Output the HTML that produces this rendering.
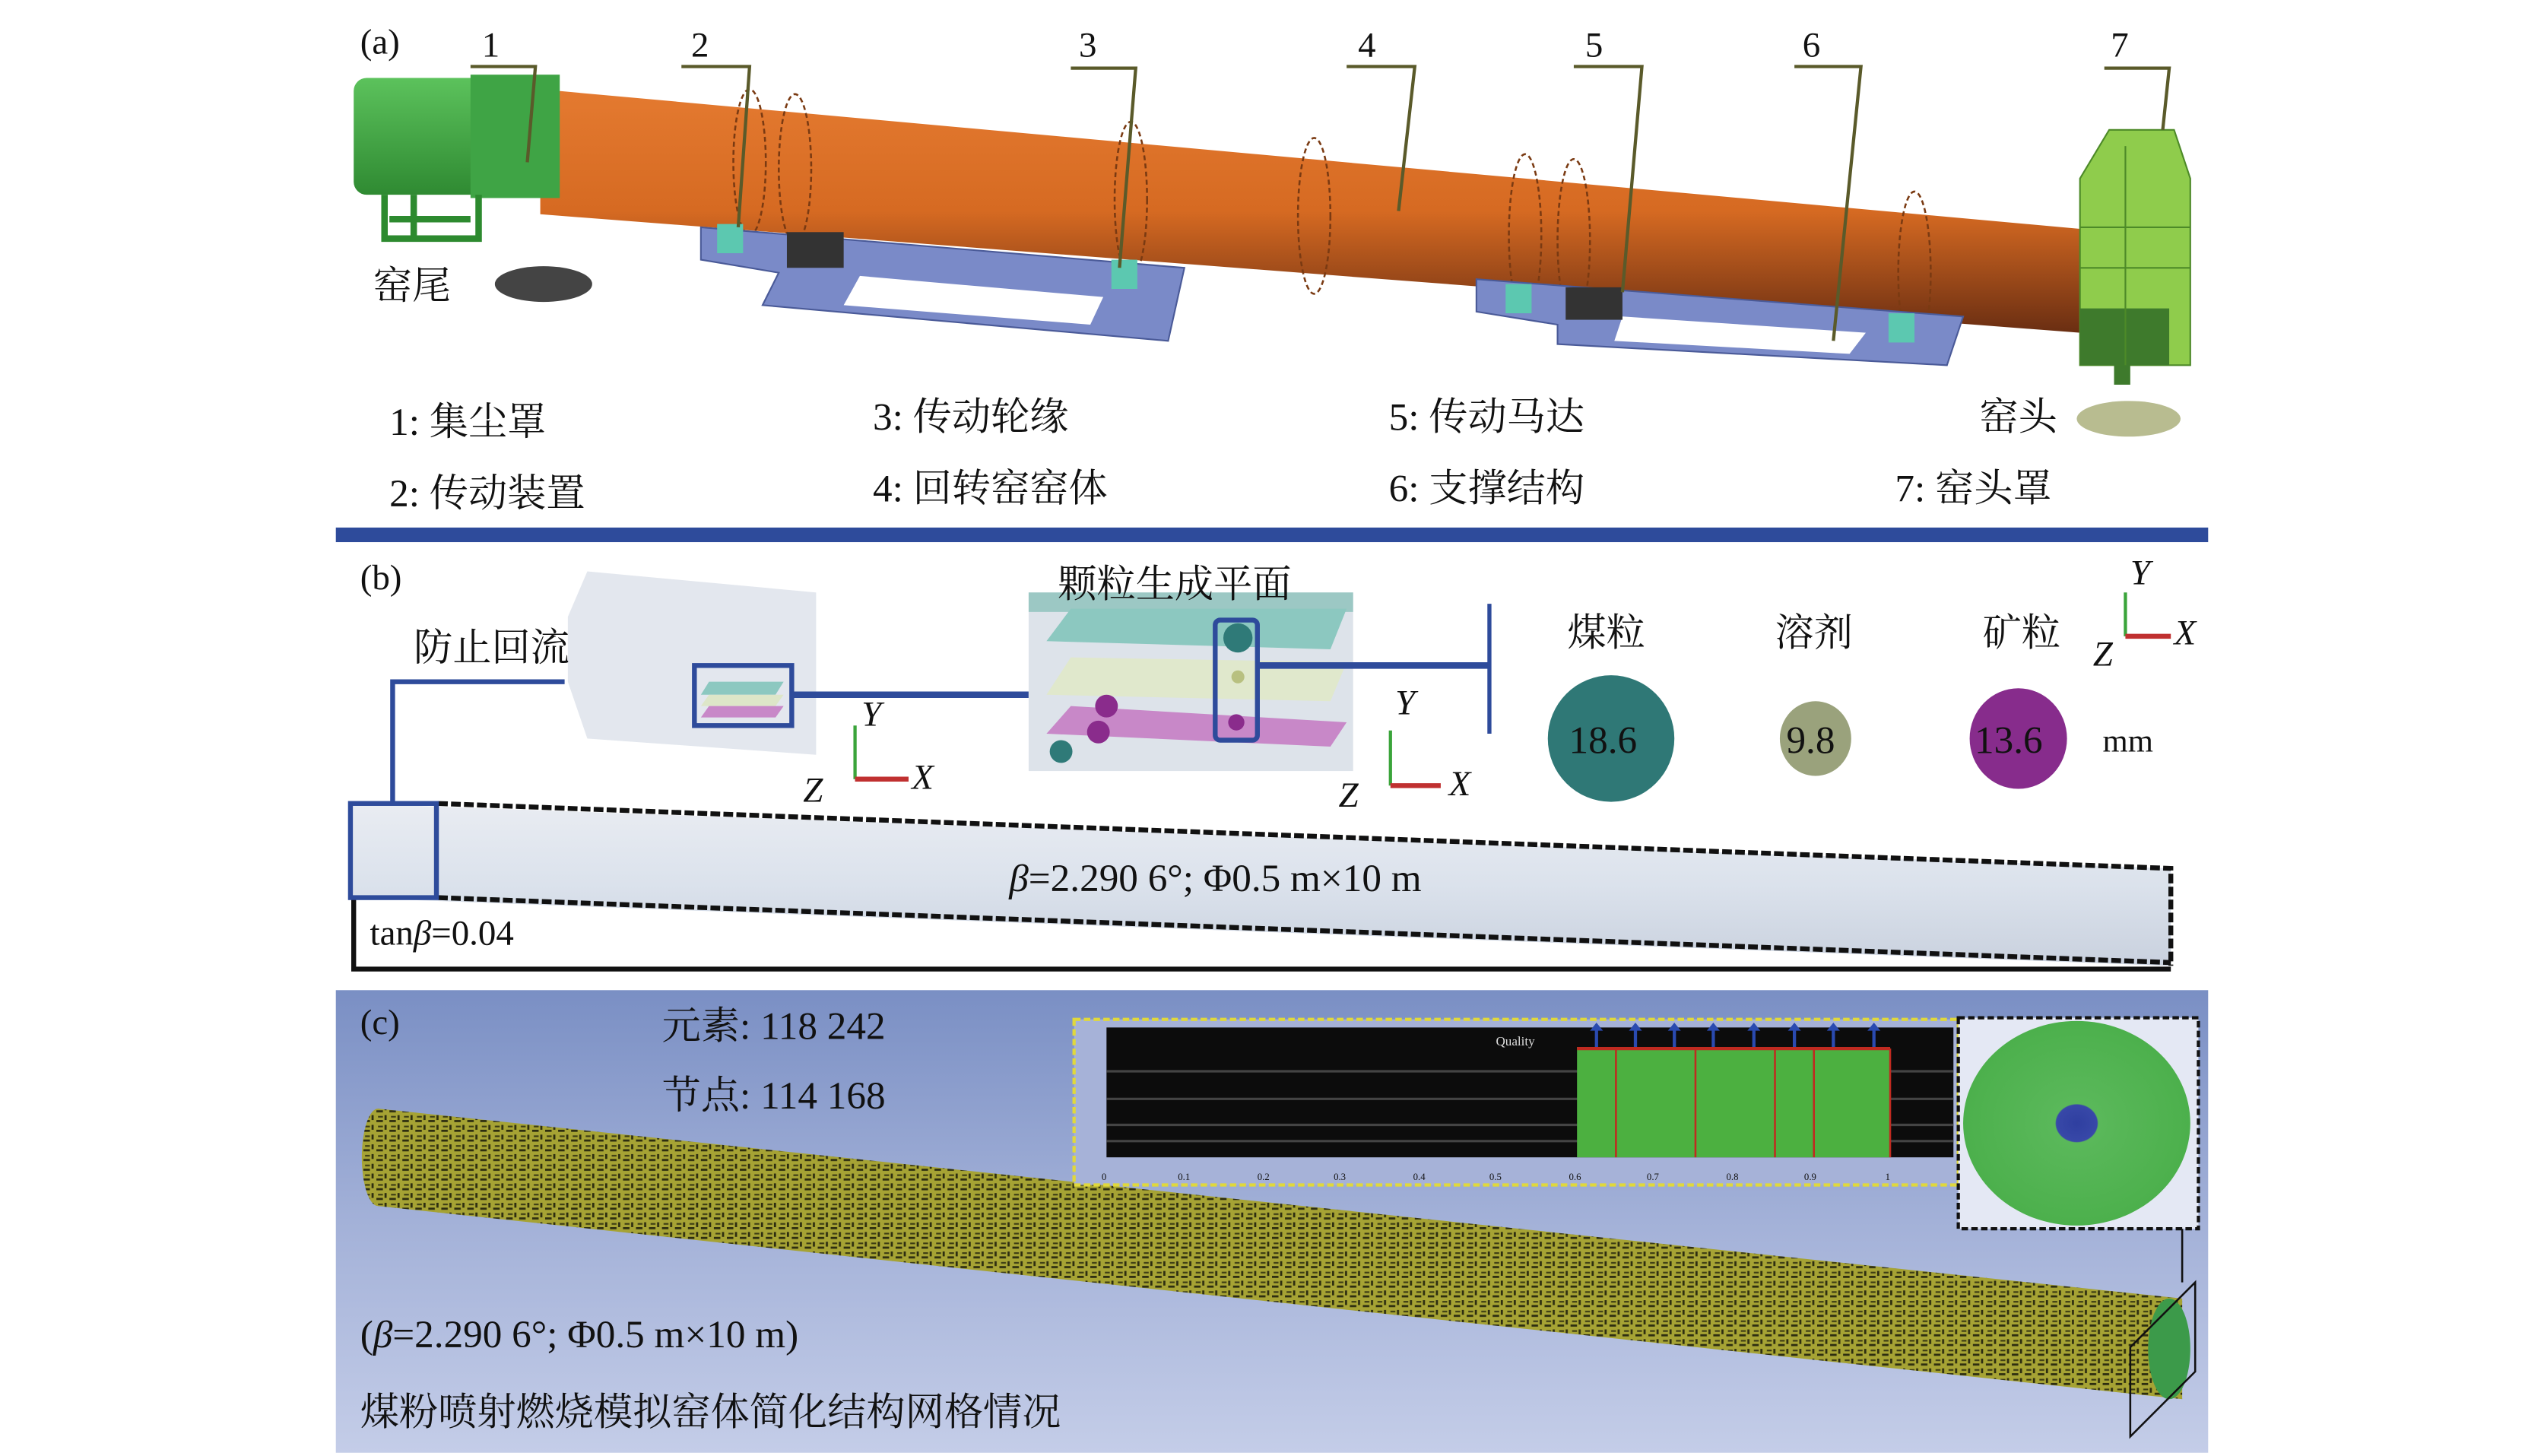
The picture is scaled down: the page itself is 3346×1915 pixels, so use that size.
<!DOCTYPE html>
<html><head><meta charset="utf-8"><style>
html,body{margin:0;padding:0;background:#fff;}
svg{display:block;}
text{font-family:"Liberation Serif","Noto Serif CJK SC",serif;fill:#111;}
</style></head><body>
<svg width="3346" height="1915" viewBox="0 0 1568 897" preserveAspectRatio="none" xmlns="http://www.w3.org/2000/svg">
<defs>
<linearGradient id="org" x1="0" y1="0" x2="0" y2="1">
<stop offset="0" stop-color="#e47a30"/><stop offset="0.5" stop-color="#d66a22"/><stop offset="1" stop-color="#6a2e12"/></linearGradient>
<linearGradient id="grn" x1="0" y1="0" x2="0" y2="1">
<stop offset="0" stop-color="#5cc25c"/><stop offset="1" stop-color="#2f8a32"/></linearGradient>
<linearGradient id="bgc" x1="0" y1="0" x2="0" y2="1">
<stop offset="0" stop-color="#7a8fc4"/><stop offset="0.5" stop-color="#a3b1d8"/><stop offset="1" stop-color="#c4cde8"/></linearGradient>
<linearGradient id="cyl" x1="0" y1="0" x2="0" y2="1">
<stop offset="0" stop-color="#e9ecf2"/><stop offset="0.5" stop-color="#dbe2ec"/><stop offset="1" stop-color="#c9d1de"/></linearGradient>
<pattern id="mesh" width="8" height="6" patternUnits="userSpaceOnUse">
<rect width="8" height="6" fill="#a6a334"/><rect x="0" y="0" width="4" height="1.3" fill="#2e2e10"/><rect x="5" y="3" width="1.3" height="3" fill="#2e2e10"/><rect x="1" y="3.5" width="3" height="1" fill="#3c3c14"/></pattern>
<radialGradient id="disk" cx="0.5" cy="0.5" r="0.5"><stop offset="0" stop-color="#2f3fa0"/><stop offset="0.18" stop-color="#3848a8"/><stop offset="0.19" stop-color="#5ab85a"/><stop offset="1" stop-color="#4cb04c"/></radialGradient>
</defs>

<!-- (a) -->
<text x="222" y="33" font-size="22">(a)</text>
<g font-size="22">
<text x="297" y="35">1</text><text x="426" y="35">2</text><text x="665" y="35">3</text><text x="837" y="35">4</text><text x="977" y="35">5</text><text x="1111" y="35">6</text><text x="1301" y="35">7</text>
</g>
<polygon points="333,55 1282,141 1282,205 333,132" fill="url(#org)"/>
<g fill="none" stroke="#7a3a12" stroke-width="1.2" stroke-dasharray="3,2">
<ellipse cx="462" cy="100" rx="10" ry="45"/><ellipse cx="490" cy="104" rx="10" ry="46"/>
<ellipse cx="697" cy="123" rx="10" ry="48"/><ellipse cx="810" cy="133" rx="10" ry="48"/>
<ellipse cx="940" cy="145" rx="10" ry="50"/><ellipse cx="970" cy="148" rx="10" ry="50"/>
<ellipse cx="1180" cy="168" rx="10" ry="50"/>
</g>
<rect x="218" y="48" width="120" height="72" rx="8" fill="url(#grn)"/>
<rect x="290" y="46" width="55" height="76" fill="#3fa445"/>
<g stroke="#2d8a2f" stroke-width="4" fill="none"><path d="M237 120 L237 147 L295 147 L295 120 M240 135 L290 135 M255 120 L255 147"/></g>
<g fill="#7a8ac8" stroke="#4a5a98" stroke-width="1">
<polygon points="432,140 730,165 720,210 470,188 480,168 432,160"/>
<polygon points="910,172 1210,195 1200,225 960,212 960,200 910,192"/>
</g>
<g fill="#fff"><polygon points="530,170 680,183 672,200 520,188"/><polygon points="1000,195 1150,205 1140,218 995,210"/></g>
<g fill="#5cc8b0"><rect x="442" y="138" width="16" height="18"/><rect x="685" y="160" width="16" height="18"/><rect x="928" y="175" width="16" height="18"/><rect x="1164" y="193" width="16" height="18"/></g>
<g fill="#333"><rect x="485" y="143" width="35" height="22"/><rect x="965" y="177" width="35" height="20"/></g>
<polygon points="1300,80 1340,80 1350,110 1350,225 1282,225 1282,110" fill="#8fcc4c" stroke="#4d8a28" stroke-width="1"/>
<rect x="1282" y="190" width="55" height="35" fill="#3e7a2c"/>
<g stroke="#4d8a28" stroke-width="1"><line x1="1282" y1="140" x2="1350" y2="140"/><line x1="1282" y1="165" x2="1350" y2="165"/><line x1="1310" y1="90" x2="1310" y2="225"/></g>
<rect x="1303" y="225" width="10" height="12" fill="#3e7a2c"/>
<g stroke="#5a5a2a" stroke-width="2" fill="none">
<path d="M290 41 L330 41 L325 100"/><path d="M420 41 L462 41 L455 140"/><path d="M660 42 L700 42 L690 165"/>
<path d="M830 41 L872 41 L862 130"/><path d="M970 41 L1012 41 L1000 180"/><path d="M1106 41 L1147 41 L1130 210"/>
<path d="M1297 42 L1337 42 L1333 80"/></g>
<text x="230" y="184" font-size="24">窑尾</text>
<ellipse cx="335" cy="175" rx="30" ry="11" fill="#444"/>
<text x="1220" y="265" font-size="24">窑头</text>
<ellipse cx="1312" cy="258" rx="32" ry="11" fill="#b8bc90"/>
<g font-size="24">
<text x="240" y="268">1: 集尘罩</text><text x="240" y="312">2: 传动装置</text>
<text x="538" y="265">3: 传动轮缘</text><text x="538" y="309">4: 回转窑窑体</text>
<text x="856" y="265">5: 传动马达</text><text x="856" y="309">6: 支撑结构</text>
<text x="1168" y="309">7: 窑头罩</text>
</g>
<rect x="207" y="325" width="1154" height="9" fill="#2e4b9b"/>

<!-- (b) -->
<text x="222" y="363" font-size="22">(b)</text>
<polygon points="362,352 503,365 503,465 362,455 350,420 350,380" fill="#e3e7ee"/>
<rect x="428" y="410" width="60" height="37" fill="none" stroke="#2e4b9b" stroke-width="3"/>
<polygon points="437,420 483,420 478,428 432,428" fill="#8cc8c0"/>
<polygon points="437,428 483,428 478,435 432,435" fill="#dde6c8"/>
<polygon points="437,435 483,435 478,442 432,442" fill="#c888c8"/>
<text x="255" y="407" font-size="24">防止回流</text>
<polyline points="348,420 242,420 242,495" fill="none" stroke="#2e4b9b" stroke-width="3"/>
<line x1="488" y1="428" x2="634" y2="428" stroke="#2e4b9b" stroke-width="4"/>
<rect x="634" y="365" width="200" height="110" fill="#dde3ea"/>
<rect x="634" y="365" width="200" height="12" fill="#9cc8c4"/>
<polygon points="660,375 830,375 820,400 645,395" fill="#8cc8c0"/>
<polygon points="660,405 830,408 820,432 645,428" fill="#e0e8cc"/>
<polygon points="660,435 830,445 820,460 645,452" fill="#c888c8"/>
<circle cx="763" cy="393" r="9" fill="#2f7a78"/><circle cx="763" cy="417" r="4" fill="#b8c080"/>
<circle cx="682" cy="435" r="7" fill="#8a2c8c"/><circle cx="677" cy="451" r="7" fill="#8a2c8c"/><circle cx="762" cy="445" r="5" fill="#8a2c8c"/><circle cx="654" cy="463" r="7" fill="#2f7a78"/>
<rect x="749" y="382" width="26" height="74" rx="3" fill="none" stroke="#2e4b9b" stroke-width="3"/>
<text x="652" y="368" font-size="24">颗粒生成平面</text>
<line x1="775" y1="410" x2="918" y2="410" stroke="#2e4b9b" stroke-width="4"/>
<line x1="918" y1="372" x2="918" y2="452" stroke="#2e4b9b" stroke-width="2.5"/>
<g font-size="22" font-style="italic">
<line x1="527" y1="480" x2="527" y2="447" stroke="#3aa43a" stroke-width="2"/><line x1="527" y1="480" x2="560" y2="480" stroke="#c03030" stroke-width="3"/>
<text x="531" y="447">Y</text><text x="562" y="486">X</text><text x="495" y="494">Z</text>
<line x1="857" y1="484" x2="857" y2="450" stroke="#3aa43a" stroke-width="2"/><line x1="857" y1="484" x2="888" y2="484" stroke="#c03030" stroke-width="3"/>
<text x="860" y="440">Y</text><text x="893" y="490">X</text><text x="825" y="497">Z</text>
<line x1="1310" y1="392" x2="1310" y2="365" stroke="#3aa43a" stroke-width="2"/><line x1="1310" y1="392" x2="1338" y2="392" stroke="#c03030" stroke-width="3"/>
<text x="1313" y="360">Y</text><text x="1340" y="397">X</text><text x="1290" y="410">Z</text>
</g>
<g font-size="24"><text x="966" y="398">煤粒</text><text x="1094" y="398">溶剂</text><text x="1222" y="398">矿粒</text></g>
<ellipse cx="993" cy="455" rx="39" ry="39" fill="#2f7876"/>
<ellipse cx="1119" cy="455" rx="22" ry="23" fill="#9aa27c"/>
<ellipse cx="1244" cy="455" rx="30" ry="31" fill="#872c8c"/>
<g font-size="24"><text x="967" y="464">18.6</text><text x="1101" y="464">9.8</text><text x="1217" y="464">13.6</text></g>
<text x="1296" y="463" font-size="20">mm</text>
<polygon points="215,495 1338,535 1338,595 215,553" fill="url(#cyl)"/>
<path d="M270 495 L1338 535 L1338 595" fill="none" stroke="#111" stroke-width="3" stroke-dasharray="6,2"/>
<path d="M270 553 L1338 593" fill="none" stroke="#111" stroke-width="3" stroke-dasharray="6,2"/>
<polyline points="218,553 218,597 1338,597" fill="none" stroke="#111" stroke-width="3"/>
<rect x="216" y="495" width="53" height="58" fill="none" stroke="#2e4b9b" stroke-width="3"/>
<text x="622" y="549" font-size="24"><tspan font-style="italic">β</tspan>=2.290 6°; Φ0.5 m×10 m</text>
<text x="228" y="582" font-size="22">tan<tspan font-style="italic">β</tspan>=0.04</text>

<!-- (c) -->
<rect x="207" y="610" width="1154" height="285" fill="url(#bgc)"/>
<text x="222" y="637" font-size="22">(c)</text>
<text x="408" y="640" font-size="24">元素: 118 242</text>
<text x="408" y="683" font-size="24">节点: 114 168</text>
<polygon points="233,683 1345,800 1345,862 233,743" fill="url(#mesh)"/>
<ellipse cx="233" cy="713" rx="10" ry="30" fill="url(#mesh)"/>
<ellipse cx="1337" cy="831" rx="13" ry="31" fill="#3c9a4a"/>
<polygon points="1313,830 1353,790 1353,845 1313,885" fill="none" stroke="#111" stroke-width="1.2"/>
<line x1="1345" y1="757" x2="1345" y2="790" stroke="#111" stroke-width="1.2"/>
<rect x="662" y="628" width="545" height="102" fill="#a6b2d8" stroke="#e0d83c" stroke-width="2" stroke-dasharray="4,2"/>
<rect x="682" y="633" width="522" height="80" fill="#0c0c0c"/>
<g stroke="#444" stroke-width="1.5"><line x1="682" y1="660" x2="1204" y2="660"/><line x1="682" y1="677" x2="1204" y2="677"/><line x1="682" y1="693" x2="1204" y2="693"/><line x1="682" y1="703" x2="1204" y2="703"/></g>
<rect x="972" y="645" width="193" height="68" fill="#4cb040"/>
<line x1="972" y1="646" x2="1165" y2="646" stroke="#c02a20" stroke-width="2"/>
<g stroke="#c02a20" stroke-width="1.2"><line x1="996" y1="646" x2="996" y2="713"/><line x1="1045" y1="646" x2="1045" y2="713"/><line x1="1094" y1="646" x2="1094" y2="713"/><line x1="1118" y1="646" x2="1118" y2="713"/><line x1="1165" y1="646" x2="1165" y2="713"/></g>
<g fill="#2a4ab0"><path d="M983 645 v-10 h-3 l4 -5 l4 5 h-3 v10z"/><path d="M1007 645 v-10 h-3 l4 -5 l4 5 h-3 v10z"/><path d="M1031 645 v-10 h-3 l4 -5 l4 5 h-3 v10z"/><path d="M1055 645 v-10 h-3 l4 -5 l4 5 h-3 v10z"/><path d="M1080 645 v-10 h-3 l4 -5 l4 5 h-3 v10z"/><path d="M1105 645 v-10 h-3 l4 -5 l4 5 h-3 v10z"/><path d="M1129 645 v-10 h-3 l4 -5 l4 5 h-3 v10z"/><path d="M1154 645 v-10 h-3 l4 -5 l4 5 h-3 v10z"/></g>
<text x="922" y="644" font-size="8" style="fill:#ddd">Quality</text>
<g font-size="6" style="fill:#222"><text x="679" y="727">0</text><text x="726" y="727">0.1</text><text x="775" y="727">0.2</text><text x="822" y="727">0.3</text><text x="871" y="727">0.4</text><text x="918" y="727">0.5</text><text x="967" y="727">0.6</text><text x="1015" y="727">0.7</text><text x="1064" y="727">0.8</text><text x="1112" y="727">0.9</text><text x="1162" y="727">1</text></g>
<rect x="1207" y="627" width="148" height="130" fill="#e4e8f4" stroke="#111" stroke-width="2" stroke-dasharray="4,2"/>
<ellipse cx="1280" cy="692" rx="70" ry="63" fill="url(#disk)"/>
<text x="222" y="830" font-size="24">(<tspan font-style="italic">β</tspan>=2.290 6°; Φ0.5 m×10 m)</text>
<text x="222" y="878" font-size="24">煤粉喷射燃烧模拟窑体简化结构网格情况</text>
</svg>
</body></html>
